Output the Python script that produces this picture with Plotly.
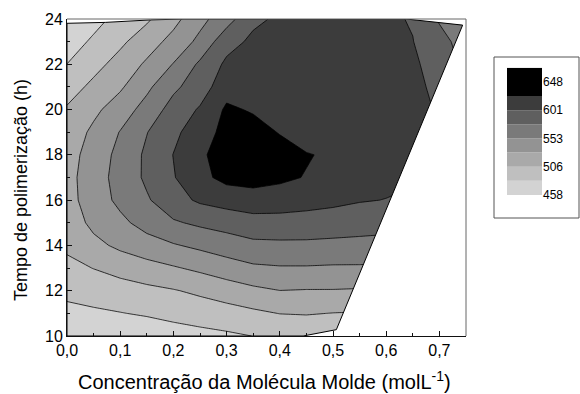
import plotly.graph_objects as go

# Response surface: rows follow tempo (h), columns follow concentration (mol/L)
conc = [0.00, 0.05, 0.10, 0.15, 0.20, 0.25, 0.30, 0.35,
        0.40, 0.45, 0.50, 0.55, 0.60, 0.65, 0.70, 0.75]
tempo = [10, 11, 12, 13, 14, 15, 16, 17, 18, 19, 20, 21, 22, 23, 24]
resposta = [
    [464, 463, 466, 468, 472, 475, 478, 482, 484, 486, 483, 484, 484, 484, 484, 484],
    [476, 478, 481, 484, 488, 492, 496, 501, 506, 507, 505, 504, 504, 504, 504, 503],
    [487, 492, 495, 500, 504, 510, 517, 524, 529, 528, 528, 527, 526, 526, 526, 524],
    [499, 506, 514, 520, 527, 534, 542, 549, 551, 551, 550, 550, 549, 549, 548, 546],
    [510, 523, 534, 544, 551, 558, 565, 571, 572, 572, 571, 570, 569, 568, 567, 565],
    [516, 535, 548, 561, 574, 581, 586, 592, 592, 591, 589, 587, 585, 584, 581, 575],
    [520, 542, 558, 574, 592, 604, 610, 613, 612, 609, 606, 602, 600, 597, 591, 584],
    [521, 543, 561, 581, 599, 618, 631, 634, 629, 623, 611, 608, 606, 603, 596, 589],
    [520, 539, 560, 581, 601, 620, 636, 641, 634, 626, 620, 610, 608, 605, 598, 591],
    [515, 534, 554, 576, 595, 614, 631, 633, 623, 610, 612, 610, 608, 605, 599, 591],
    [508, 524, 541, 562, 586, 603, 628, 622, 617, 614, 611, 609, 606, 605, 599, 589],
    [495, 511, 526, 548, 572, 589, 615, 615, 612, 611, 610, 608, 605, 604, 597, 581],
    [482, 498, 514, 533, 554, 581, 605, 610, 610, 609, 609, 608, 604, 603, 594, 570],
    [469, 486, 501, 518, 537, 559, 592, 605, 608, 608, 608, 606, 603, 601, 586, 565],
    [460, 473, 490, 502, 522, 546, 567, 596, 604, 605, 606, 605, 604, 599, 574, 565],
]

# Contour levels and band shades (lowest band first)
level_start = 481.75
level_end = 624.25
level_step = 23.75
band_colors = ["#d3d3d3", "#bfbfbf", "#a9a9a9", "#939393",
               "#7a7a7a", "#5f5f5f", "#3c3c3c", "#000000"]

# Boundary of the sampled domain (outside is left blank)
hull_x = [0.0, 0.0, 0.072, 0.157, 0.22, 0.6375, 0.7437, 0.5063, 0.4438]
hull_y = [10.0, 23.81, 23.85, 23.96, 24.0, 24.0, 23.73, 10.28, 10.0]

x_range = [0.0, 0.75]
y_range = [10, 24]
x_ticks = [0.0, 0.1, 0.2, 0.3, 0.4, 0.5, 0.6, 0.7]
x_tick_labels = ["0,0", "0,1", "0,2", "0,3", "0,4", "0,5", "0,6", "0,7"]
x_minor = [0.05, 0.15, 0.25, 0.35, 0.45, 0.55, 0.65, 0.75]
y_ticks = [10, 12, 14, 16, 18, 20, 22, 24]
y_minor = [11, 13, 15, 17, 19, 21, 23]

# Scale key
key_base = [458, 481.75, 505.5, 529.25, 553, 576.75, 600.5, 624.25]
key_height = [23.75, 23.75, 23.75, 23.75, 23.75, 23.75, 23.75, 47.5]
key_ticks = [458, 505.5, 553, 600.5, 648]
key_labels = ["458", "506", "553", "601", "648"]

W, H = 580, 394
ML, MR, MT, MB = 67, 0, 19, 58
PW, PH = W - ML - MR, H - MT - MB


def px_x(p):
    return (p - ML) / PW


def px_y(p):
    return (H - MB - p) / PH


n_bands = len(band_colors)
colorscale = [[i / (n_bands - 1), c] for i, c in enumerate(band_colors)]

FONT = "Liberation Sans, Arial, sans-serif"

fig = go.Figure()

fig.add_trace(go.Contour(
    x=conc, y=tempo, z=resposta,
    colorscale=colorscale, showscale=False,
    contours=dict(start=level_start, end=level_end, size=level_step,
                  coloring="fill", showlines=True),
    line=dict(color="black", width=0.75, smoothing=0),
    hoverinfo="skip",
))

# blank out the parts of the frame that lie outside the sampled domain
mask_top_x = [x_range[0]] + hull_x[1:5] + [x_range[0]]
mask_top_y = [y_range[1]] + hull_y[1:5] + [y_range[1]]
mask_right_x = hull_x[5:9] + [x_range[1], x_range[1], hull_x[5]]
mask_right_y = hull_y[5:9] + [y_range[0], y_range[1], hull_y[5]]
for mx, my in ((mask_top_x, mask_top_y), (mask_right_x, mask_right_y)):
    fig.add_trace(go.Scatter(
        x=mx, y=my, mode="lines", fill="toself", fillcolor="white",
        line=dict(width=0, color="white"), hoverinfo="skip", showlegend=False,
    ))

fig.add_trace(go.Scatter(
    x=hull_x + [hull_x[0]], y=hull_y + [hull_y[0]], mode="lines",
    line=dict(color="black", width=1), hoverinfo="skip", showlegend=False,
))

# scale key swatches
fig.add_trace(go.Bar(
    x=[0] * len(key_base), y=key_height, base=key_base,
    marker=dict(color=band_colors, line=dict(width=0)), width=1,
    xaxis="x2", yaxis="y2", hoverinfo="skip", showlegend=False,
))

axis_common = dict(
    showline=True, linecolor="#111", linewidth=1, mirror=False,
    ticks="inside", ticklen=5, tickcolor="#111", showgrid=False, zeroline=False,
    tickfont=dict(family=FONT, size=16, color="black"),
)

x_end = px_x(466)

fig.update_layout(
    width=W, height=H,
    margin=dict(l=ML, r=MR, t=MT, b=MB),
    paper_bgcolor="white", plot_bgcolor="white",
    showlegend=False, barmode="overlay",
    xaxis=dict(
        domain=[0, x_end], range=x_range,
        tickmode="array", tickvals=x_ticks, ticktext=x_tick_labels,
        minor=dict(tickmode="array", tickvals=x_minor, ticks="inside",
                   ticklen=3, tickcolor="#111"),
        **axis_common,
    ),
    yaxis=dict(
        domain=[0, 1], range=y_range,
        tickmode="array", tickvals=y_ticks,
        minor=dict(tickmode="array", tickvals=y_minor, ticks="inside",
                   ticklen=3, tickcolor="#111"),
        **axis_common,
    ),
    xaxis2=dict(
        domain=[px_x(507), px_x(542)], range=[-0.5, 0.5], anchor="y2",
        visible=False, fixedrange=True,
    ),
    yaxis2=dict(
        domain=[px_y(195), px_y(67.8)], range=[458, 671.75], anchor="x2",
        side="right", showgrid=False, zeroline=False, showline=False,
        ticks="", tickmode="array", tickvals=key_ticks, ticktext=key_labels,
        tickfont=dict(family=FONT, size=12, color="black"),
    ),
    shapes=[
        # top and right edges of the plotting frame
        dict(type="line", xref="paper", yref="paper",
             x0=0, x1=x_end, y0=1, y1=1, line=dict(color="#666", width=1)),
        dict(type="line", xref="paper", yref="paper",
             x0=x_end, x1=x_end, y0=0, y1=1, line=dict(color="#666", width=1)),
        # frame of the scale key
        dict(type="rect", xref="paper", yref="paper",
             x0=px_x(494), x1=px_x(579), y0=px_y(218), y1=px_y(57),
             line=dict(color="#555", width=1), fillcolor="rgba(0,0,0,0)"),
    ],
    annotations=[
        dict(text="Concentração da Molécula Molde (molL<sup>-1</sup>)",
             xref="paper", yref="paper", x=px_x(264.5), y=px_y(380),
             xanchor="center", yanchor="middle", showarrow=False,
             font=dict(family=FONT, size=20, color="black")),
        dict(text="Tempo de polimerização (h)",
             xref="paper", yref="paper", x=px_x(21), y=px_y(190),
             xanchor="center", yanchor="middle", showarrow=False, textangle=-90,
             font=dict(family=FONT, size=18, color="black")),
    ],
)

fig.write_html("out.html")
